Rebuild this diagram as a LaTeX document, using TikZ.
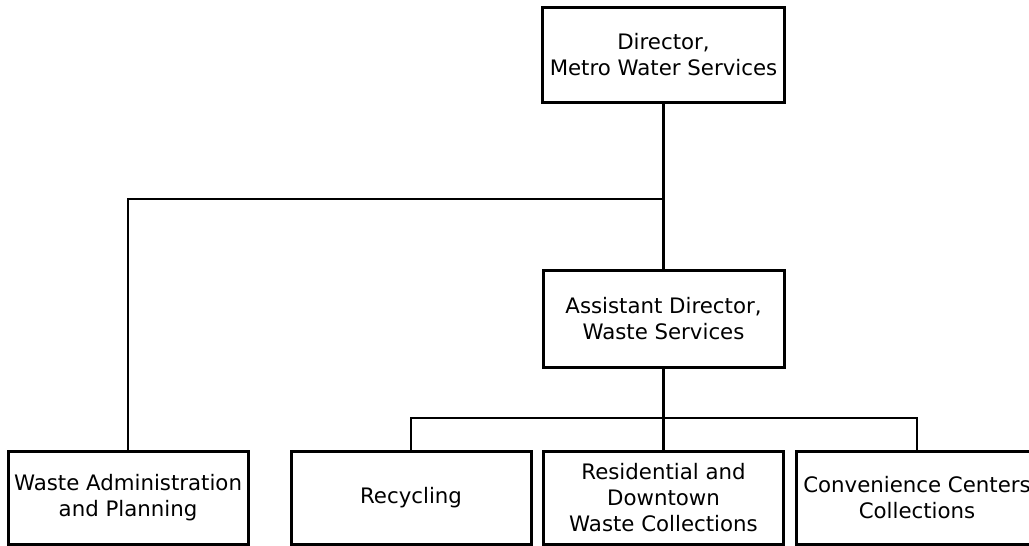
\documentclass[tikz,border=0pt]{standalone}
\usepackage{fontspec}
\setmainfont{DejaVu Sans}
\usepackage{tikz}
\usepackage{xcolor}

\begin{document}
\begin{tikzpicture}[
            x=1pt, y=-1pt,
            block/.style={rectangle, draw, line width=3pt, align=center, inner sep=0pt, minimum width=240pt, minimum height=94pt, font=\fontsize{21.3}{26}\selectfont},
            line/.style={line width=2.8pt}
        ]
            \useasboundingbox (0,0) rectangle (1029,546);

            % Director Block
            \node[block, minimum width=242pt, minimum height=95pt] (director) at (663.5,54.5) {Director,\\Metro Water Services};
            % Assistant Director Block
            \node[block, minimum width=241pt, minimum height=97pt] (assistant) at (663.5,318.5) {Assistant Director,\\Waste Services};

            % Bottom Blocks
            \node[block, minimum height=93pt] (admin) at (128,497.5) {Waste Administration\\and Planning};
            \node[block, minimum height=93pt] (recycling) at (411,497.5) {Recycling};
            \node[block, minimum height=93pt] (residential) at (663.5,497.5) {Residential and\\Downtown\\Waste Collections};
            \node[block, minimum width=242pt, minimum height=93pt] (convenience) at (917,497.5) {Convenience Centers\\Collections};

            % Branch points
            \coordinate (split) at (663.5,199);
            \coordinate (bus) at (663.5,418);

            % Connectors
            \draw[line] (director.south) -- (assistant.north);
            \draw[line] (split) -| (admin.north);
            \draw[line] (assistant.south) -- (residential.north);
            \draw[line] (recycling.north) |- (bus) -| (convenience.north);

        \end{tikzpicture}
\end{document}
